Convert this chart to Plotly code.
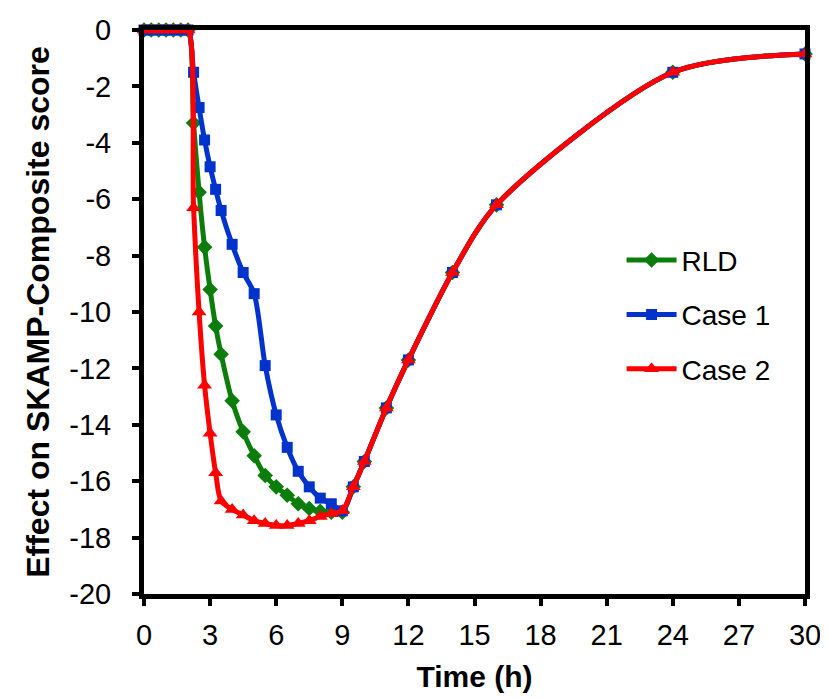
import plotly.graph_objects as go

# ---- data ----
t_pre = [0, 0.33, 0.67, 1.0, 1.33, 1.67, 2.0]
t_mid = [2.25, 2.5, 2.75, 3.0, 3.25, 3.5, 4.0, 4.5, 5.0, 5.5, 6.0, 6.5, 7.0, 7.5, 8.0, 8.5, 9.0]
t_post = [9.5, 10, 11, 12, 14, 16, 24, 30]

y_pre = [0, 0, 0, 0, 0, 0, 0]
y_post = [-16.2, -15.3, -13.4, -11.7, -8.6, -6.2, -1.5, -0.85]

rld_mid = [-3.3, -5.75, -7.7, -9.2, -10.5, -11.5, -13.15, -14.25, -15.1, -15.8,
           -16.2, -16.5, -16.8, -16.97, -17.07, -17.1, -17.1]
case1_mid = [-1.5, -2.75, -3.9, -4.85, -5.65, -6.4, -7.6, -8.6, -9.35, -11.9,
             -13.65, -14.8, -15.65, -16.2, -16.6, -16.8, -17.05]
case2_mid = [-6.3, -10.0, -12.6, -14.3, -15.7, -16.7, -17.0, -17.2, -17.4, -17.5,
             -17.57, -17.57, -17.5, -17.4, -17.25, -17.15, -17.05]

time = t_pre + t_mid + t_post
series = [
    ("RLD", y_pre + rld_mid + y_post, "#0a7d0a", "diamond", 12),
    ("Case 1", y_pre + case1_mid + y_post, "#0033cc", "square", 11),
    ("Case 2", y_pre + case2_mid + y_post, "#ff0000", "triangle-up", 13),
]

x_ticks = [0, 3, 6, 9, 12, 15, 18, 21, 24, 27, 30]
y_ticks = [0, -2, -4, -6, -8, -10, -12, -14, -16, -18, -20]
y_tick_labels = ["0", "-2", "-4", "-6", "-8", "-10", "-12", "-14", "-16", "-18", "-20"]

FONT = "Liberation Sans, Arial, sans-serif"

fig = go.Figure()
for i, (name, ys, col, sym, ms) in enumerate(series):
    fig.add_trace(go.Scatter(
        x=time, y=ys, name=name, mode="lines+markers",
        line=dict(color=col, width=5, shape="spline", smoothing=0.8),
        marker=dict(symbol=sym, size=ms, color=col),
        cliponaxis=False, legendgroup=f"g{i}",
    ))

axis_common = dict(
    showline=True, linecolor="black", linewidth=5, mirror=True,
    ticks="outside", tickcolor="black", tickwidth=4, ticklen=7,
    showgrid=False, zeroline=False, automargin=False,
    tickfont=dict(family=FONT, size=29, color="black"),
)
fig.update_xaxes(range=[0, 30], tickvals=x_ticks, ticklabelstandoff=4,
                 title=dict(text="<b>Time (h)</b>", font=dict(family=FONT, size=30, color="black"), standoff=18),
                 **axis_common)
fig.update_yaxes(range=[-20, 0], tickvals=y_ticks, ticktext=y_tick_labels, ticklabelstandoff=15,
                 title=dict(text="<b>Effect on SKAMP-Composite score</b>", font=dict(family=FONT, size=32, color="black"), standoff=12),
                 **axis_common)

fig.update_layout(
    width=820, height=690,
    margin=dict(l=135.5, r=23, t=21.5, b=103.5),
    paper_bgcolor="white", plot_bgcolor="white",
    showlegend=True,
    legend=dict(x=0.7225, y=0.636, xanchor="left", yanchor="top",
                font=dict(family=FONT, size=28, color="black"),
                bgcolor="rgba(0,0,0,0)", tracegroupgap=15, itemwidth=50),
)

fig.write_html("out.html")
